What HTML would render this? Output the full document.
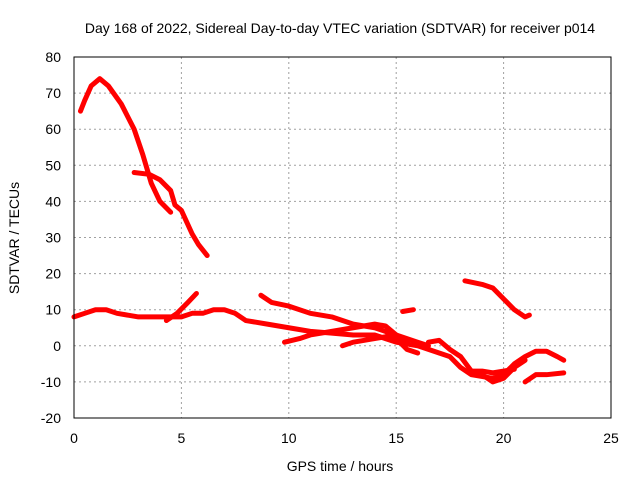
<!DOCTYPE html>
<html><head><meta charset="utf-8"><style>
body{margin:0;background:#fff}
svg{display:block;font-family:"Liberation Sans",sans-serif}
</style></head><body>
<svg id="chart" width="640" height="480" viewBox="0 0 640 480">
<rect width="640" height="480" fill="#fff"/>
<text x="340" y="33" font-size="14" text-anchor="middle">Day 168 of 2022, Sidereal Day-to-day VTEC variation (SDTVAR) for receiver p014</text>
<text x="340" y="471" font-size="14" text-anchor="middle">GPS time / hours</text>
<text transform="translate(19,238) rotate(-90)" font-size="14" text-anchor="middle">SDTVAR / TECUs</text>
<g id="grid"></g>
<g id="ticks"></g>
<g id="series"></g>
<rect x="74" y="57" width="537" height="361" fill="none" stroke="#000" stroke-width="1"/>
</svg>
<script>
const xTicks=[0,5,10,15,20,25];
const yTicks=[-20,-10,0,10,20,30,40,50,60,70,80];
const track1=[[0.3,65],[0.5,68],[0.8,72],[1.2,74],[1.6,72],[2.2,67],[2.8,60],[3.2,53],[3.6,45],[4.0,40],[4.5,37]];
const track2=[[2.8,48],[3.5,47.5],[4.0,46],[4.5,43],[4.7,39],[5.0,37.5],[5.5,31],[5.8,28],[6.2,25]];
const track3=[[0,8],[0.5,9],[1,10],[1.5,10],[2,9],[3,8],[4,8],[4.5,8],[5,8],[5.5,9],[6,9],[6.5,10],[7,10],[7.5,9],[8,7],[9,6],[10,5],[11,4],[12,3.5],[13,3],[14,3],[14.5,2],[15,1],[16,0],[17,-2],[17.5,-3],[18,-6],[18.5,-8],[19.5,-9],[20,-8],[20.5,-5],[21,-3],[21.5,-1.5],[22,-1.5],[22.5,-3],[22.8,-4]];
const track4=[[4.3,7],[4.8,9],[5.3,12],[5.7,14.5]];
const track5=[[8.7,14],[9.2,12],[10,11],[11,9],[12,8],[12.5,7],[13,6],[14,5],[14.5,4],[15,2],[15.5,-1],[16,-2]];
const track6=[[9.8,1],[10.5,2],[11,3],[12,4],[13,5],[14,6],[14.5,5.5],[15,3],[15.5,1]];
const track7=[[12.5,0],[13,1],[14,2],[15,3],[16,1],[16.5,0]];
const track8=[[15.3,9.5],[15.8,10]];
const track9=[[16.5,1],[17,1.5],[17.5,-1],[18,-3],[18.5,-7],[19,-8],[19.5,-10],[20,-9],[20.5,-6],[21,-4]];
const track10=[[18.2,18],[19,17],[19.5,16],[20,13],[20.5,10],[21,8],[21.2,8.5]];
const track11=[[18.3,-7],[19,-7],[19.5,-7.5],[20,-7],[20.5,-6.5]];
const track12=[[21,-10],[21.5,-8],[22,-8],[22.8,-7.5]];
const tracks=[track1,track2,track3,track4,track5,track6,track7,track8,track9,track10,track11,track12];
const NS="http://www.w3.org/2000/svg";
const X=v=>74+v*(537/25);
const Y=v=>418-(v+20)*(361/100);
const grid=document.getElementById('grid'),ticks=document.getElementById('ticks'),ser=document.getElementById('series');
function mk(tag,attrs,parent){const e=document.createElementNS(NS,tag);for(const k in attrs)e.setAttribute(k,attrs[k]);parent.appendChild(e);return e;}
xTicks.forEach(t=>{
 if(t>0&&t<25){const g=mk('line',{x1:X(t),x2:X(t),y1:57,y2:418,stroke:'#a0a0a0','stroke-dasharray':'2,3'},grid);
 
 }
 const l=mk('text',{x:X(t),y:443,'font-size':14,'text-anchor':'middle'},ticks);l.textContent=t;
 
 
});
yTicks.forEach(t=>{
 if(t>-20&&t<80){const g=mk('line',{x1:74,x2:611,y1:Y(t),y2:Y(t),stroke:'#a0a0a0','stroke-dasharray':'2,3'},grid);
 
 }
 const l=mk('text',{x:61,y:Y(t)+5,'font-size':14,'text-anchor':'end'},ticks);l.textContent=t;
 
 
});
tracks.forEach(tr=>{
 const p=mk('polyline',{points:tr.map(d=>X(d[0])+','+Y(d[1])).join(' '),fill:'none',stroke:'#ff0000','stroke-width':5,'stroke-linejoin':'round','stroke-linecap':'round'},ser);
 
 
});
</script>
</body></html>
